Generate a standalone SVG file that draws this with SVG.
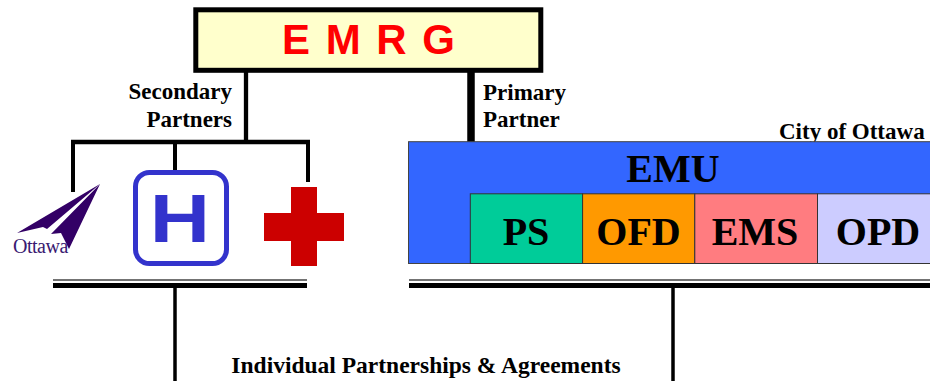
<svg xmlns="http://www.w3.org/2000/svg" width="930" height="381" viewBox="0 0 930 381">
<style>
.lbl{font-family:"Liberation Serif","Times New Roman",serif;font-weight:bold;font-size:23px;fill:#000}
.big{font-family:"Liberation Serif","Times New Roman",serif;font-weight:bold;font-size:40px;fill:#000;text-anchor:middle}
.ln{stroke:#000;fill:none}
.sub{stroke:#333;stroke-width:1}
</style>
<rect width="930" height="381" fill="#fff"/>
<g id="connectors">
<line class="ln" x1="246" y1="72" x2="246" y2="144" stroke-width="4.3"/>
<line class="ln" x1="471" y1="72" x2="471" y2="142" stroke-width="7.5"/>
<line class="ln" x1="71" y1="142" x2="310" y2="142" stroke-width="4.5"/>
<line class="ln" x1="73" y1="140" x2="73" y2="192" stroke-width="4"/>
<line class="ln" x1="175" y1="140" x2="175" y2="172" stroke-width="4"/>
<line class="ln" x1="308" y1="140" x2="308" y2="182" stroke-width="4"/>
<line x1="53" y1="280" x2="307" y2="280" stroke="#444" stroke-width="1.5"/>
<line class="ln" x1="53" y1="285.5" x2="307" y2="285.5" stroke-width="5"/>
<line x1="409" y1="280" x2="930" y2="280" stroke="#444" stroke-width="1.5"/>
<line class="ln" x1="409" y1="285.5" x2="930" y2="285.5" stroke-width="5"/>
<line class="ln" x1="175" y1="285" x2="175" y2="381" stroke-width="3.5"/>
<line class="ln" x1="673" y1="285" x2="673" y2="381" stroke-width="3.5"/>
</g>
<g id="emrg">
<rect x="195.8" y="9.8" width="345" height="60.5" fill="#FFFFCC" stroke="#000" stroke-width="5"/>
<text x="369.5" y="54" font-family="'Liberation Sans',Arial,sans-serif" font-weight="bold" font-size="42" fill="#FF0000" text-anchor="middle" letter-spacing="2">E M R G</text>
</g>
<g id="secondary-label">
<text class="lbl" x="232" y="99" text-anchor="end">Secondary</text>
<text class="lbl" x="232" y="127" text-anchor="end">Partners</text>
</g>
<g id="primary-label">
<text class="lbl" x="483" y="100">Primary</text>
<text class="lbl" x="483" y="127">Partner</text>
</g>
<g id="ottawa-logo">
<polygon points="100,184 17,233 43,227 47,229" fill="#330066"/>
<polygon points="100,184 51,234 61,233 69,249" fill="#330066"/>
<text x="13" y="253" font-family="'Liberation Serif','Times New Roman',serif" font-size="20" fill="#3a1a72" letter-spacing="-0.5">Ottawa</text>
</g>
<g id="hospital">
<rect x="135.5" y="172.5" width="91" height="91" rx="14" fill="#fff" stroke="#3333CC" stroke-width="5"/>
<text transform="translate(180,242) scale(1.22,1)" x="0" y="0" font-family="'Liberation Sans',Arial,sans-serif" font-weight="bold" font-size="68.4" fill="#3333CC" text-anchor="middle">H</text>
</g>
<g id="red-cross">
<rect x="291" y="187" width="26" height="79" fill="#CC0000"/>
<rect x="264" y="213" width="80" height="28" fill="#CC0000"/>
</g>
<g id="city-label">
<text class="lbl" x="779" y="139.3">City of Ottawa</text>
</g>
<g id="emu">
<rect x="408.5" y="141.7" width="530" height="121.8" fill="#3366FF" stroke="#444" stroke-width="1"/>
<text class="big" x="673" y="181.7">EMU</text>
</g>
<g id="ps">
<rect class="sub" x="470.3" y="193.8" width="112.3" height="69.7" fill="#00CC99"/>
<text class="big" x="526" y="244.5">PS</text>
</g>
<g id="ofd">
<rect class="sub" x="582.6" y="193.8" width="112.2" height="69.7" fill="#FF9900"/>
<text class="big" x="638.5" y="244.5">OFD</text>
</g>
<g id="ems">
<rect class="sub" x="694.8" y="193.8" width="122.7" height="69.7" fill="#FF7C80"/>
<text class="big" x="755" y="244.5">EMS</text>
</g>
<g id="opd">
<rect class="sub" x="817.5" y="193.8" width="121" height="69.7" fill="#CCCCFF"/>
<text class="big" x="878" y="244.5">OPD</text>
</g>
<g id="bottom-label">
<text class="lbl" x="426" y="373.3" text-anchor="middle" style="font-size:23.5px">Individual Partnerships &amp; Agreements</text>
</g>
</svg>
